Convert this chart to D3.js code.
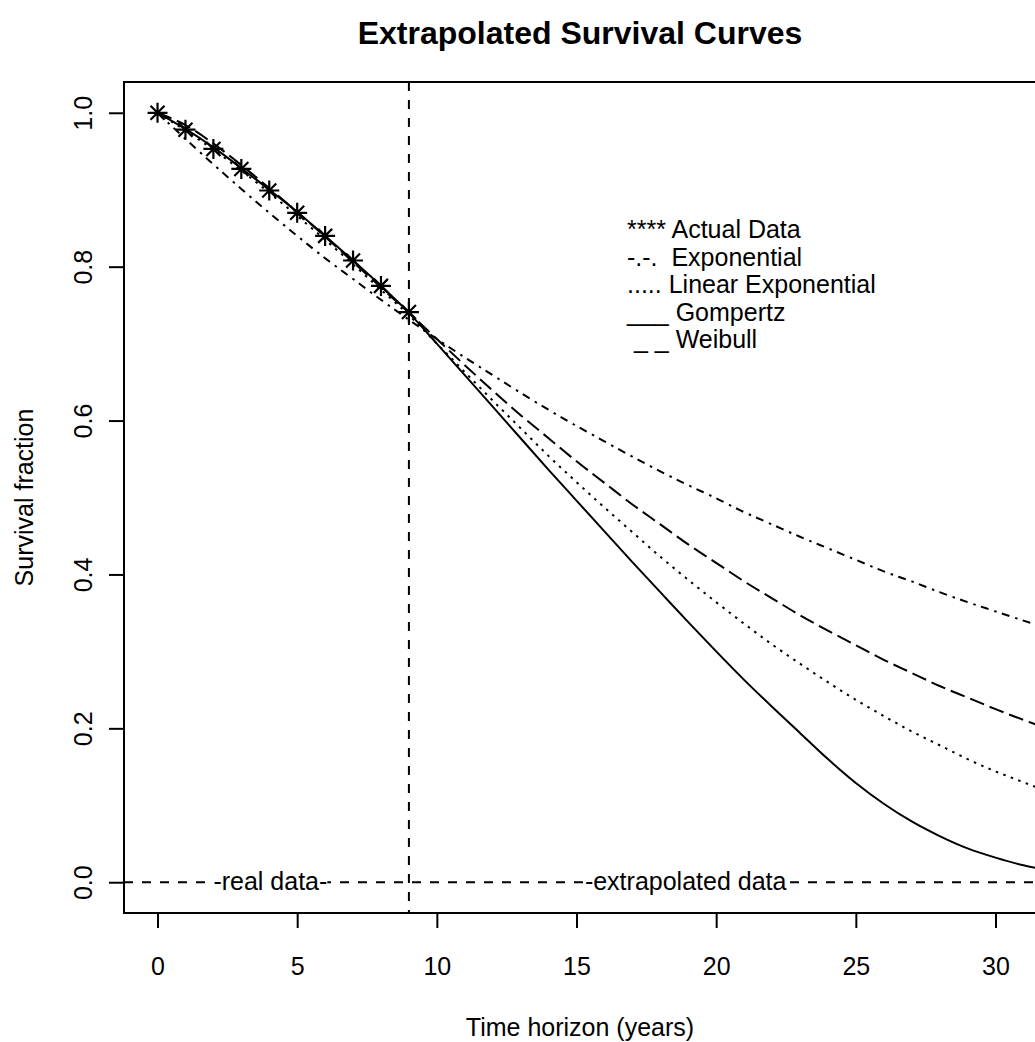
<!DOCTYPE html>
<html>
<head>
<meta charset="utf-8">
<script src="https://cdn.jsdelivr.net/npm/d3@7"></script>
<style>
body { margin: 0; background: #fff; }
text { font-family: "Liberation Sans", Arial, sans-serif; fill: #000; }
</style>
</head>
<body>
<svg id="chart"></svg>
<script>
// values, one per year
const years = [0, 1, 2, 3, 4, 5, 6, 7, 8, 9, 10, 11, 12, 13, 14, 15, 16, 17, 18, 19, 20,
    21, 22, 23, 24, 25, 26, 27, 28, 29, 30, 31, 32];
const actualYears = [0, 1, 2, 3, 4, 5, 6, 7, 8, 9];
const actualData = [1.000, 0.978, 0.953, 0.927, 0.899, 0.870, 0.840, 0.808, 0.775, 0.741];
const exponential = [1.000, 0.966, 0.933, 0.901, 0.870, 0.840, 0.811, 0.784, 0.757, 0.731, 0.706,
    0.682, 0.659, 0.636, 0.614, 0.593, 0.573, 0.553, 0.534, 0.516, 0.499,
    0.481, 0.465, 0.449, 0.434, 0.419, 0.404, 0.391, 0.377, 0.364, 0.352, 0.340, 0.328];
const linearExponential = [1.000, 0.977, 0.952, 0.925, 0.896, 0.866, 0.835, 0.803, 0.770, 0.737, 0.700,
    0.663, 0.626, 0.590, 0.554, 0.520, 0.487, 0.455, 0.423, 0.393, 0.364,
    0.336, 0.309, 0.284, 0.260, 0.237, 0.216, 0.196, 0.178, 0.160, 0.144, 0.130, 0.116];
const gompertz = [1.000, 0.979, 0.955, 0.928, 0.900, 0.871, 0.840, 0.808, 0.775, 0.740, 0.700,
    0.659, 0.618, 0.577, 0.536, 0.496, 0.456, 0.416, 0.377, 0.338, 0.300,
    0.263, 0.228, 0.194, 0.160, 0.129, 0.102, 0.079, 0.060, 0.044, 0.032, 0.022, 0.015];
const weibull = [1.000, 0.984, 0.960, 0.932, 0.902, 0.871, 0.839, 0.806, 0.773, 0.740, 0.706,
    0.672, 0.639, 0.607, 0.577, 0.547, 0.519, 0.491, 0.465, 0.439, 0.415,
    0.391, 0.369, 0.347, 0.327, 0.308, 0.289, 0.272, 0.255, 0.240, 0.225, 0.211, 0.198];
const xTicks = [0, 5, 10, 15, 20, 25, 30];
const yTicks = [0, 0.2, 0.4, 0.6, 0.8, 1.0];
const cutoffYear = 9;
const legendLabels = [`**** Actual Data`, `-.-.  Exponential`, `..... Linear Exponential`, `___ Gompertz`, ` _ _ Weibull`];

const width = 1035;
const height = 1042;
const plot = { left: 124, top: 82, right: 1036, bottom: 913 };

const xScale = d3.scaleLinear()
    .domain([-1.2, 31.45])
    .range([plot.left, plot.right]);
const yScale = d3.scaleLinear()
    .domain([-0.04, 1.04])
    .range([plot.bottom, plot.top]);

const svg = d3.select(`#chart`)
    .attr(`width`, width)
    .attr(`height`, height);

svg.append(`defs`).append(`clipPath`)
    .attr(`id`, `plotClip`)
    .append(`rect`)
    .attr(`x`, plot.left)
    .attr(`y`, plot.top)
    .attr(`width`, plot.right - plot.left)
    .attr(`height`, plot.bottom - plot.top);

// title
svg.append(`text`)
    .attr(`x`, (plot.left + plot.right) / 2)
    .attr(`y`, 44)
    .attr(`text-anchor`, `middle`)
    .attr(`font-size`, `32px`)
    .attr(`font-weight`, `bold`)
    .text(`Extrapolated Survival Curves`);

// axes
const xAxis = d3.axisBottom(xScale)
    .tickValues(xTicks)
    .tickSize(15)
    .tickPadding(29)
    .tickFormat(d3.format(`d`));
const gx = svg.append(`g`)
    .attr(`transform`, `translate(0, ${plot.bottom})`)
    .call(xAxis);
gx.select(`.domain`).remove();
gx.selectAll(`line`).attr(`stroke`, `#000`).attr(`stroke-width`, 2);
gx.selectAll(`text`).attr(`font-size`, `25px`).attr(`font-family`, null);

const yAxis = d3.axisLeft(yScale)
    .tickValues(yTicks)
    .tickSize(15)
    .tickFormat(d3.format(`.1f`));
const gy = svg.append(`g`)
    .attr(`transform`, `translate(${plot.left}, 0)`)
    .call(yAxis);
gy.select(`.domain`).remove();
gy.selectAll(`line`).attr(`stroke`, `#000`).attr(`stroke-width`, 2);
gy.selectAll(`text`)
    .attr(`font-size`, `25px`)
    .attr(`font-family`, null)
    .attr(`transform`, `rotate(-90)`)
    .attr(`x`, 0)
    .attr(`y`, -32)
    .attr(`dy`, null)
    .attr(`text-anchor`, `middle`);

svg.append(`text`)
    .attr(`x`, (plot.left + plot.right) / 2)
    .attr(`y`, 1036)
    .attr(`text-anchor`, `middle`)
    .attr(`font-size`, `25px`)
    .text(`Time horizon (years)`);

svg.append(`text`)
    .attr(`transform`, `translate(33, ${(plot.top + plot.bottom) / 2}) rotate(-90)`)
    .attr(`text-anchor`, `middle`)
    .attr(`font-size`, `25px`)
    .text(`Survival fraction`);

// plot contents
const inner = svg.append(`g`).attr(`clip-path`, `url(#plotClip)`);

// reference lines
inner.append(`line`)
    .attr(`x1`, xScale(cutoffYear)).attr(`x2`, xScale(cutoffYear))
    .attr(`y1`, plot.top).attr(`y2`, plot.bottom)
    .attr(`stroke`, `#000`).attr(`stroke-width`, 2)
    .attr(`stroke-dasharray`, `9,9`);
inner.append(`line`)
    .attr(`x1`, plot.left).attr(`x2`, plot.right)
    .attr(`y1`, yScale(0)).attr(`y2`, yScale(0))
    .attr(`stroke`, `#000`).attr(`stroke-width`, 2)
    .attr(`stroke-dasharray`, `9,9`);

const zeroLabels = [
    { x: 2.0, text: `-real data-` },
    { x: 15.3, text: `-extrapolated data` }
];
zeroLabels.forEach((d) => {
    const t = inner.append(`text`)
        .attr(`x`, xScale(d.x))
        .attr(`y`, yScale(0) + 8)
        .attr(`font-size`, `25px`)
        .text(d.text);
    const box = t.node().getBBox();
    inner.insert(`rect`, () => t.node())
        .attr(`x`, box.x)
        .attr(`y`, yScale(0) - 4)
        .attr(`width`, box.width)
        .attr(`height`, 8)
        .attr(`fill`, `#fff`);
});

const line = d3.line()
    .x((d, i) => xScale(years[i]))
    .y(d => yScale(d))
    .curve(d3.curveMonotoneX);

const curves = [
    { values: exponential, dash: `8,6,2.5,5.5` },
    { values: linearExponential, dash: `2.5,5.5` },
    { values: weibull, dash: `15,6` },
    { values: gompertz, dash: null }
];
curves.forEach((c) => {
    inner.append(`path`)
        .datum(c.values)
        .attr(`d`, line)
        .attr(`fill`, `none`)
        .attr(`stroke`, `#000`)
        .attr(`stroke-width`, 2)
        .attr(`stroke-dasharray`, c.dash);
});

// actual data stars
const arm = 10;
const diag = 7;
const starPath = `M${-arm},0H${arm}M0,${-arm}V${arm}M${-diag},${-diag}L${diag},${diag}M${-diag},${diag}L${diag},${-diag}`;
inner.selectAll(`.star`)
    .data(actualData)
    .enter()
    .append(`path`)
    .attr(`class`, `star`)
    .attr(`transform`, (d, i) => `translate(${xScale(actualYears[i])}, ${yScale(d)})`)
    .attr(`d`, starPath)
    .attr(`stroke`, `#000`)
    .attr(`stroke-width`, 2.2)
    .attr(`fill`, `none`);

// legend text
svg.selectAll(`.legend`)
    .data(legendLabels)
    .enter()
    .append(`text`)
    .attr(`class`, `legend`)
    .attr(`x`, 627)
    .attr(`y`, (d, i) => 238 + i * 27.5)
    .attr(`font-size`, `25px`)
    .attr(`xml:space`, `preserve`)
    .style(`white-space`, `pre`)
    .text(d => d);

// frame
svg.append(`rect`)
    .attr(`x`, plot.left)
    .attr(`y`, plot.top)
    .attr(`width`, plot.right - plot.left)
    .attr(`height`, plot.bottom - plot.top)
    .attr(`fill`, `none`)
    .attr(`stroke`, `#000`)
    .attr(`stroke-width`, 2);
</script>
</body>
</html>
